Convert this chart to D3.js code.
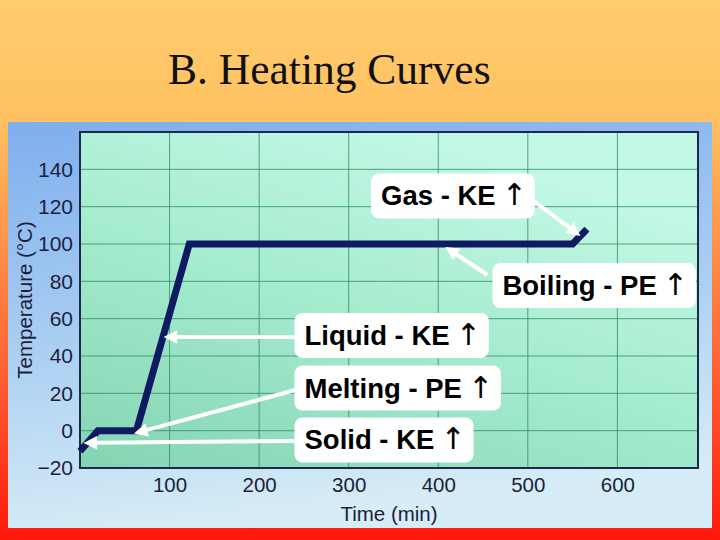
<!DOCTYPE html>
<html>
<head>
<meta charset="utf-8">
<script src="https://cdn.jsdelivr.net/npm/d3@7"></script>
<style>
  html, body { margin: 0; padding: 0; }
  body { width: 720px; height: 540px; overflow: hidden; }
</style>
</head>
<body>
<div id="chart"></div>
<script>
// heating curve
var timeMin = [0, 20, 63, 122, 550, 566];
var tempC   = [-11, 0, 0, 100, 100, 108];

var xTicks = [100, 200, 300, 400, 500, 600];
var yTicks = [-20, 0, 20, 40, 60, 80, 100, 120, 140];
var xGrid  = [100, 200, 300, 400, 500, 600];
var yGrid  = [0, 20, 40, 60, 80, 100, 120, 140];

// annotations: label, box anchor (left / middle), arrow start, arrow tip (data units)
var noteLabels = ["Gas - KE", "Boiling - PE", "Liquid - KE", "Melting - PE", "Solid - KE"];
var noteBox    = [[325, 126], [460.5, 78], [239.5, 51.3], [239.5, 23.1], [239.5, -4.7]];
var noteFrom   = [[505, 123.6], [455, 83.4], [239.5, 50.2], [240.6, 21.8], [239.5, -5.5]];
var noteTo     = [[549, 107.8], [418, 95.2], [105.5, 50.2], [72, 0], [16, -6.5]];

var width = 720, height = 540;
var plot = {left: 80, top: 132, right: 698, bottom: 468};

var svg = d3.select("#chart").append("svg")
  .attr("width", width)
  .attr("height", height);

var defs = svg.append("defs");

var bg = defs.append("linearGradient").attr("id", "bg")
  .attr("x1", 0).attr("y1", 0).attr("x2", 0).attr("y2", 1);
bg.append("stop").attr("offset", "0%").attr("stop-color", "#ffcb6c");
bg.append("stop").attr("offset", "22%").attr("stop-color", "#ffc262");
bg.append("stop").attr("offset", "40%").attr("stop-color", "#ff9c4e");
bg.append("stop").attr("offset", "72%").attr("stop-color", "#ff5a30");
bg.append("stop").attr("offset", "100%").attr("stop-color", "#ff180a");

var panel = defs.append("linearGradient").attr("id", "panel")
  .attr("x1", 0).attr("y1", 0).attr("x2", 0.2).attr("y2", 1);
panel.append("stop").attr("offset", "0%").attr("stop-color", "#7eaeee");
panel.append("stop").attr("offset", "50%").attr("stop-color", "#a6ccf2");
panel.append("stop").attr("offset", "100%").attr("stop-color", "#d6ecf6");

var field = defs.append("linearGradient").attr("id", "field")
  .attr("x1", 0).attr("y1", 1).attr("x2", 0.6).attr("y2", 0);
field.append("stop").attr("offset", "0%").attr("stop-color", "#84d4b2");
field.append("stop").attr("offset", "55%").attr("stop-color", "#a6eccf");
field.append("stop").attr("offset", "100%").attr("stop-color", "#c4f8e6");

defs.append("marker")
  .attr("id", "head")
  .attr("viewBox", "0 0 10 10")
  .attr("refX", 2).attr("refY", 5)
  .attr("markerWidth", 3.8).attr("markerHeight", 3.4)
  .attr("orient", "auto-start-reverse")
  .append("path")
  .attr("d", "M0,0 L10,5 L0,10 z")
  .attr("fill", "#ffffff");

svg.append("rect").attr("width", width).attr("height", height).attr("fill", "url(#bg)");

svg.append("text")
  .attr("x", 168).attr("y", 84)
  .attr("font-family", "'Liberation Serif', 'Times New Roman', serif")
  .attr("font-size", 43.5)
  .attr("fill", "#111")
  .text("B. Heating Curves");

svg.append("rect")
  .attr("x", 8).attr("y", 122).attr("width", 704).attr("height", 406)
  .attr("fill", "url(#panel)");

var x = d3.scaleLinear().domain([0, 690]).range([plot.left, plot.right]);
var y = d3.scaleLinear().domain([-20, 160]).range([plot.bottom, plot.top]);

svg.append("rect")
  .attr("x", plot.left).attr("y", plot.top)
  .attr("width", plot.right - plot.left).attr("height", plot.bottom - plot.top)
  .attr("fill", "url(#field)");

var g = {
  add: function(id) {
    this[id] = svg.append("g").attr("id", id);
  }
};
g.add("grid");
g.add("frame");
g.add("axes");
g.add("curve");
g.add("arrows");
g.add("notes");

g.grid.selectAll("line.v").data(xGrid).enter().append("line")
  .attr("class", "v")
  .attr("x1", function(d) { return x(d); }).attr("x2", function(d) { return x(d); })
  .attr("y1", plot.top).attr("y2", plot.bottom)
  .attr("stroke", "#2f8f66").attr("stroke-width", 1).attr("opacity", 0.8);

g.grid.selectAll("line.h").data(yGrid).enter().append("line")
  .attr("class", "h")
  .attr("x1", plot.left).attr("x2", plot.right)
  .attr("y1", function(d) { return y(d); }).attr("y2", function(d) { return y(d); })
  .attr("stroke", "#2f8f66").attr("stroke-width", 1).attr("opacity", 0.8);

g.frame.append("rect")
  .attr("x", plot.left).attr("y", plot.top)
  .attr("width", plot.right - plot.left).attr("height", plot.bottom - plot.top)
  .attr("fill", "none").attr("stroke", "#1b2a4a").attr("stroke-width", 2);

var axisFont = "'Liberation Sans', Arial, sans-serif";

var yAxis = g.axes.append("g")
  .attr("transform", "translate(" + plot.left + ",0)")
  .call(d3.axisLeft(y).tickValues(yTicks).tickSize(0).tickPadding(7));
var xAxis = g.axes.append("g")
  .attr("transform", "translate(0," + plot.bottom + ")")
  .call(d3.axisBottom(x).tickValues(xTicks).tickSize(0).tickPadding(9));

[xAxis, yAxis].forEach(function(a) {
  a.select(".domain").remove();
  a.selectAll("text")
    .attr("font-family", axisFont)
    .attr("fill", "#1c1f3c");
});
yAxis.selectAll("text").attr("font-size", 21);
xAxis.selectAll("text").attr("font-size", 20.5);

g.axes.append("text")
  .attr("x", (plot.left + plot.right) / 2).attr("y", 521)
  .attr("text-anchor", "middle")
  .attr("font-family", axisFont).attr("font-size", 20.5).attr("fill", "#1c1f3c")
  .text("Time (min)");

g.axes.append("text")
  .attr("transform", "translate(32," + (plot.top + plot.bottom) / 2 + ") rotate(-90)")
  .attr("text-anchor", "middle")
  .attr("font-family", axisFont).attr("font-size", 20.5).attr("fill", "#1c1f3c")
  .text("Temperature (\u00B0C)");

var line = d3.line()
  .x(function(d) { return x(d[0]); })
  .y(function(d) { return y(d[1]); });

g.curve.append("path")
  .datum(d3.zip(timeMin, tempC))
  .attr("d", line)
  .attr("fill", "none")
  .attr("stroke", "#101a62")
  .attr("stroke-width", 7)
  .attr("stroke-linejoin", "miter");

g.arrows.selectAll("line").data(noteLabels).enter().append("line")
  .attr("x1", function(d, i) { return x(noteFrom[i][0]); })
  .attr("y1", function(d, i) { return y(noteFrom[i][1]); })
  .attr("x2", function(d, i) { return x(noteTo[i][0]); })
  .attr("y2", function(d, i) { return y(noteTo[i][1]); })
  .attr("stroke", "#ffffff").attr("stroke-width", 4)
  .attr("marker-end", "url(#head)");

var notes = g.notes.selectAll("g").data(noteLabels).enter().append("g")
  .attr("transform", function(d, i) {
    return "translate(" + x(noteBox[i][0]) + "," + y(noteBox[i][1]) + ")";
  });

var boxes = notes.append("rect")
  .attr("rx", 8).attr("ry", 8)
  .attr("fill", "#ffffff");

var labels = notes.append("text")
  .attr("x", 10).attr("y", 10)
  .attr("font-family", axisFont)
  .attr("font-size", 27.5)
  .attr("font-weight", "bold")
  .attr("fill", "#000");
labels.append("tspan").text(function(d) { return d; });
labels.append("tspan")
  .attr("dx", 6)
  .attr("font-family", "'DejaVu Sans', sans-serif")
  .attr("font-weight", "normal")
  .attr("font-size", 30)
  .attr("transform", "scale(0.7,1)")
  .text("\u2191");

boxes.each(function(d, i) {
  var w = labels.nodes()[i].getComputedTextLength();
  d3.select(this)
    .attr("x", 0).attr("y", -22)
    .attr("width", w + 24).attr("height", 45);
});
</script>
</body>
</html>
